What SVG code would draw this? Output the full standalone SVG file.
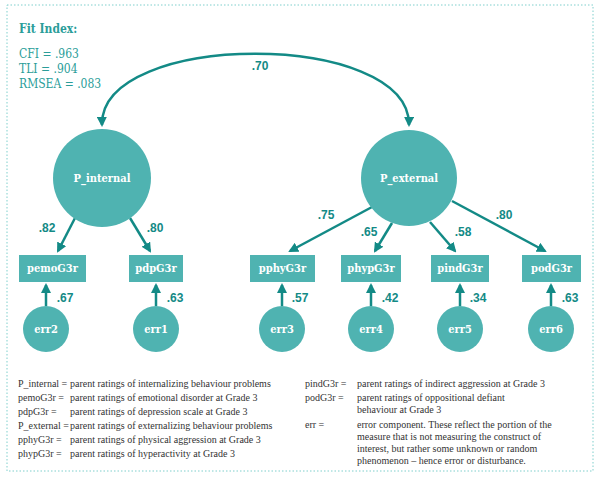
<svg xmlns="http://www.w3.org/2000/svg" width="600" height="479" viewBox="0 0 600 479">
<style>
.c{fill:#4fb3b1}
.t{fill:#fff;font-family:"DejaVu Serif",serif;font-weight:bold;font-size:11px;text-anchor:middle;font-stretch:condensed}
.n{fill:#138a86;font-family:"Liberation Sans",sans-serif;font-weight:bold;font-size:12px;text-anchor:middle}
.f{fill:#2a9d99;font-family:"DejaVu Serif",serif;font-size:12px;font-stretch:condensed}
.l{fill:#333;font-family:"Liberation Serif",serif;font-size:10px}
.a{stroke:#138a86;stroke-width:2.5;fill:none;marker-end:url(#m)}
</style>
<defs><marker id="m" viewBox="0 0 10 10" refX="8" refY="5" markerWidth="4" markerHeight="4" orient="auto-start-reverse"><path d="M0,0L10,5L0,10z" fill="#138a86"/></marker></defs>
<rect x="7" y="5" width="586" height="466" fill="none" stroke="#7fcfcc" stroke-dasharray="1.5,2"/>
<text class="f" x="19" y="33" font-weight="bold">Fit Index:</text>
<text class="f" x="19" y="58">CFI = .963</text>
<text class="f" x="19" y="73">TLI = .904</text>
<text class="f" x="19" y="88">RMSEA = .083</text>
<g id="connectors">
<path class="a" style="marker-start:url(#m)" d="M102,125 C100,30 410,30 409,125"/>
<line class="a" x1="75" y1="218" x2="58" y2="251"/>
<line class="a" x1="130" y1="218" x2="150" y2="251"/>
<line class="a" x1="372" y1="207" x2="290" y2="251"/>
<line class="a" x1="392" y1="223" x2="375" y2="251"/>
<line class="a" x1="430" y1="222" x2="455" y2="251"/>
<line class="a" x1="452" y1="201" x2="545" y2="251"/>
<line class="a" x1="46" y1="306" x2="46" y2="285"/>
<line class="a" x1="156" y1="306" x2="156" y2="285"/>
<line class="a" x1="282" y1="306" x2="282" y2="285"/>
<line class="a" x1="371" y1="306" x2="371" y2="285"/>
<line class="a" x1="460" y1="306" x2="460" y2="285"/>
<line class="a" x1="551" y1="306" x2="551" y2="285"/>
<text class="n" x="260" y="70">.70</text>
<text class="n" x="47" y="232">.82</text>
<text class="n" x="155" y="232">.80</text>
<text class="n" x="326" y="219">.75</text>
<text class="n" x="369" y="236">.65</text>
<text class="n" x="463" y="236">.58</text>
<text class="n" x="504" y="219">.80</text>
<text class="n" x="65" y="302">.67</text>
<text class="n" x="175" y="302">.63</text>
<text class="n" x="300" y="302">.57</text>
<text class="n" x="390" y="302">.42</text>
<text class="n" x="478" y="302">.34</text>
<text class="n" x="570" y="302">.63</text>
</g>
<g id="P_internal"><circle class="c" cx="102" cy="178" r="49"/><text class="t" x="102" y="182">P_internal</text></g>
<g id="P_external"><circle class="c" cx="409" cy="178" r="48"/><text class="t" x="409" y="182">P_external</text></g>
<g id="pemoG3r"><rect class="c" x="19" y="255" width="67" height="27"/><text class="t" x="52.5" y="272">pemoG3r</text></g>
<g id="pdpG3r"><rect class="c" x="129" y="255" width="54" height="27"/><text class="t" x="156" y="272">pdpG3r</text></g>
<g id="pphyG3r"><rect class="c" x="250" y="255" width="65" height="27"/><text class="t" x="282.5" y="272">pphyG3r</text></g>
<g id="phypG3r"><rect class="c" x="341" y="255" width="60" height="27"/><text class="t" x="371" y="272">phypG3r</text></g>
<g id="pindG3r"><rect class="c" x="431" y="255" width="58" height="27"/><text class="t" x="460" y="272">pindG3r</text></g>
<g id="podG3r"><rect class="c" x="522" y="255" width="59" height="27"/><text class="t" x="551.5" y="272">podG3r</text></g>
<g id="err2"><circle class="c" cx="46" cy="329" r="23"/><text class="t" x="46" y="333">err2</text></g>
<g id="err1"><circle class="c" cx="156" cy="329" r="23"/><text class="t" x="156" y="333">err1</text></g>
<g id="err3"><circle class="c" cx="282" cy="329" r="23"/><text class="t" x="282" y="333">err3</text></g>
<g id="err4"><circle class="c" cx="371" cy="329" r="23"/><text class="t" x="371" y="333">err4</text></g>
<g id="err5"><circle class="c" cx="460" cy="329" r="23"/><text class="t" x="460" y="333">err5</text></g>
<g id="err6"><circle class="c" cx="551" cy="329" r="23"/><text class="t" x="551" y="333">err6</text></g>
<g class="l">
<text x="18" y="387">P_internal =</text><text x="70" y="387">parent ratings of internalizing behaviour problems</text>
<text x="18" y="401">pemoG3r =</text><text x="70" y="401">parent ratings of emotional disorder at Grade 3</text>
<text x="18" y="415">pdpG3r =</text><text x="70" y="415">parent ratings of depression scale at Grade 3</text>
<text x="18" y="429">P_external =</text><text x="70" y="429">parent ratings of externalizing behaviour problems</text>
<text x="18" y="443">pphyG3r =</text><text x="70" y="443">parent ratings of physical aggression at Grade 3</text>
<text x="18" y="457">phypG3r =</text><text x="70" y="457">parent ratings of hyperactivity at Grade 3</text>
<text x="305" y="387">pindG3r =</text><text x="357" y="387">parent ratings of indirect aggression at Grade 3</text>
<text x="305" y="401">podG3r =</text><text x="357" y="401">parent ratings of oppositional defiant</text>
<text x="357" y="413">behaviour at Grade 3</text>
<text x="305" y="428">err =</text><text x="357" y="428">error component. These reflect the portion of the</text>
<text x="357" y="440">measure that is not measuring the construct of</text>
<text x="357" y="452">interest, but rather some unknown or random</text>
<text x="357" y="464">phenomenon – hence error or disturbance.</text>
</g>
</svg>
